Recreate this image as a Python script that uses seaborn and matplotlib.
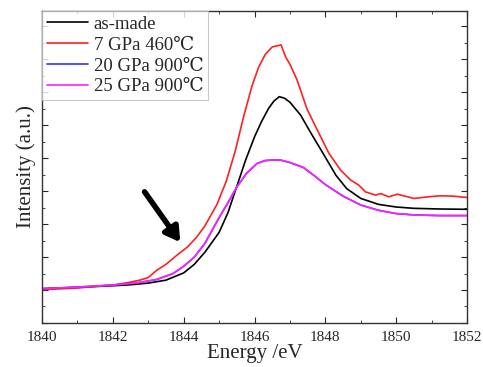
import numpy as np
import pandas as pd
import seaborn as sns
import matplotlib.pyplot as plt
from matplotlib.ticker import MultipleLocator

# energy (eV) and intensities
energy_black = [1840, 1841, 1842, 1842.5, 1843, 1843.5, 1844, 1844.3, 1844.6, 1845,
                1845.25, 1845.5, 1845.75, 1846, 1846.2, 1846.4, 1846.55, 1846.7,
                1846.85, 1847, 1847.3, 1847.6, 1847.95, 1848.3, 1848.6, 1849,
                1849.5, 1850, 1850.5, 1851.2, 1852]
as_made = [1.04, 1.08, 1.13, 1.16, 1.21, 1.30, 1.52, 1.78, 2.15, 2.75,
           3.35, 4.15, 4.95, 5.65, 6.12, 6.52, 6.74, 6.87,
           6.82, 6.70, 6.31, 5.75, 5.12, 4.48, 4.08, 3.78,
           3.60, 3.52, 3.48, 3.46, 3.45]

energy_red = [1840, 1841, 1841.6, 1842, 1842.4, 1842.76, 1843, 1843.24, 1843.5, 1843.8,
              1844.1, 1844.37, 1844.6, 1844.94, 1845.2, 1845.45, 1845.7, 1845.93,
              1846.11, 1846.3, 1846.5, 1846.75, 1846.87, 1847.0, 1847.2, 1847.48,
              1847.77, 1848.1, 1848.43, 1848.71, 1848.95, 1849.13, 1849.42, 1849.56,
              1849.79, 1850.03, 1850.5, 1850.9, 1851.25, 1851.6, 1852]
gpa7 = [1.01, 1.06, 1.12, 1.15, 1.22, 1.30, 1.38, 1.60, 1.78, 2.05,
        2.30, 2.61, 2.95, 3.60, 4.30, 5.20, 6.30, 7.20,
        7.75, 8.15, 8.38, 8.44, 8.09, 7.85, 7.38, 6.50,
        5.86, 5.15, 4.64, 4.34, 4.18, 3.98, 3.88, 3.93,
        3.83, 3.91, 3.78, 3.83, 3.86, 3.85, 3.81]

energy_pm = [1840, 1841, 1842, 1842.7, 1843.24, 1843.7, 1844, 1844.3, 1844.6, 1845,
             1845.25, 1845.5, 1845.78, 1846.07, 1846.3, 1846.55, 1846.75,
             1847, 1847.38, 1847.7, 1848, 1848.5, 1849, 1849.5, 1850, 1850.5,
             1851.2, 1852]
gpa20 = [1.04, 1.09, 1.15, 1.22, 1.32, 1.50, 1.72, 2.00, 2.42, 3.20,
         3.65, 4.13, 4.55, 4.84, 4.93, 4.95, 4.94,
         4.87, 4.72, 4.46, 4.20, 3.85, 3.58, 3.42, 3.32, 3.28,
         3.26, 3.26]
gpa25 = [1.04, 1.09, 1.15, 1.22, 1.32, 1.50, 1.72, 2.00, 2.42, 3.20,
         3.65, 4.13, 4.55, 4.84, 4.93, 4.95, 4.94,
         4.87, 4.72, 4.46, 4.20, 3.85, 3.58, 3.42, 3.32, 3.28,
         3.26, 3.26]

sns.set_style("ticks")
plt.rcParams["font.family"] = ["Liberation Serif", "DejaVu Serif"]

fig, ax = plt.subplots(figsize=(4.83, 3.67), dpi=100)
fig.subplots_adjust(left=0.087, right=0.967, top=0.970, bottom=0.120)

sns.lineplot(x=energy_black, y=as_made, color="black", lw=1.2, label="as-made", ax=ax)
sns.lineplot(x=energy_red, y=gpa7, color="#ff2020", lw=1.2, label="7 GPa 460\u2103", ax=ax)
sns.lineplot(x=energy_pm, y=gpa20, color="#3030ff", lw=1.2, label="20 GPa 900\u2103", ax=ax)
sns.lineplot(x=energy_pm, y=gpa25, color="#ff20ff", lw=1.2, label="25 GPa 900\u2103", ax=ax)

# arrow pointing at the pre-edge shoulder
ax.annotate("", xy=(1843.95, 2.38), xytext=(1842.85, 4.05),
            arrowprops=dict(arrowstyle="-|>,head_width=0.5,head_length=0.85",
                            color="black", lw=4))

ax.set_xlim(1840, 1852)
ax.set_ylim(0, 9.47)
ax.xaxis.set_major_locator(MultipleLocator(2))
ax.xaxis.set_minor_locator(MultipleLocator(1))
ax.yaxis.set_major_locator(MultipleLocator(1))
ax.yaxis.set_minor_locator(MultipleLocator(0.5))
ax.tick_params(which="both", direction="in", top=True, right=True, labelleft=False)
ax.tick_params(which="major", length=4, labelsize=11, pad=6)
ax.tick_params(which="minor", length=2.5)
for sp in ax.spines.values():
    sp.set_linewidth(1.0)
    sp.set_color("#333333")

ax.set_xlabel("Energy /eV", fontsize=15, labelpad=0)
ax.set_ylabel("Intensity (a.u.)", fontsize=15, labelpad=4)

leg = ax.legend(loc="upper left", fontsize=13.5, handlelength=2.2, handletextpad=0.3,
                borderaxespad=0, borderpad=0.25, labelspacing=0.2, fancybox=False)
leg.get_frame().set_edgecolor("#bbbbbb")
leg.get_frame().set_linewidth(0.8)

plt.savefig("out.png", dpi=100)
